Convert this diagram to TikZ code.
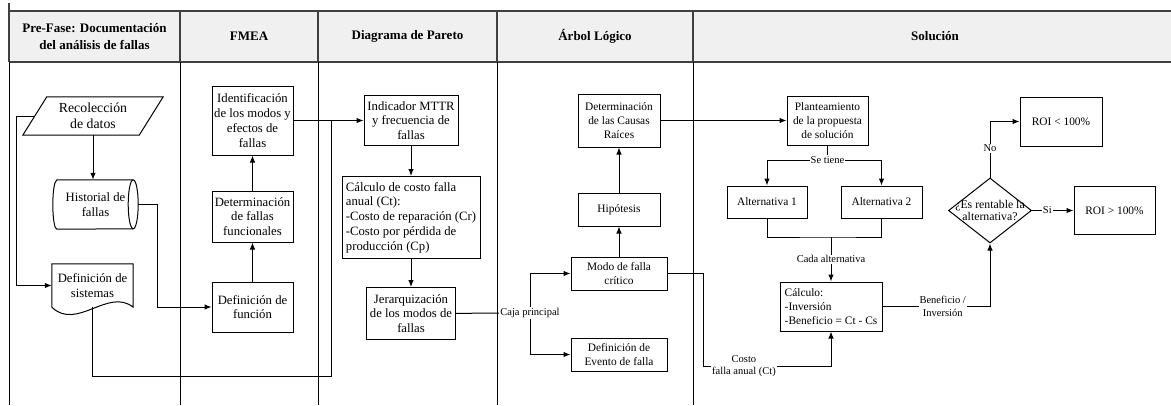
\documentclass[tikz,border=0pt]{standalone}
\usepackage{fontspec}
\setmainfont{Liberation Serif}
\usetikzlibrary{shapes.geometric,arrows.meta}

\newcommand{\txtmain}{\fontsize{12.7}{14.8}\selectfont}
\newcommand{\txtbig}{\fontsize{13.8}{16}\selectfont}
\newcommand{\txtsmall}{\fontsize{11.4}{13.6}\selectfont}
\newcommand{\txtlab}{\fontsize{10.5}{12.5}\selectfont}
\newcommand{\txtdia}{\fontsize{11.8}{12.5}\selectfont}
\newcommand{\txthead}{\fontsize{13}{17}\selectfont}

\begin{document}
\begin{tikzpicture}[x=1pt, y=1pt, >={Latex[length=7pt,width=5.5pt]},
  block/.style={draw, line width=1pt, align=center, font=\txtmain, inner sep=1pt},
  sblock/.style={block, font=\txtsmall},
  conn/.style={line width=1pt},
  lbl/.style={fill=white, font=\txtlab, inner sep=1pt, align=center},
  head/.style={font=\txthead\bfseries, align=center}]

  \useasboundingbox (0,0) rectangle (1171,-405);

  % Lanes
  \fill[black!6] (9,-11) rectangle (1171,-62);
  \draw[line width=1.6pt, black!75] (9,-11) -- (1171,-11) (9,-62) -- (1171,-62);
  \foreach \x in {180,318,497,693} {
    \draw[line width=1.4pt, black!75] (\x,-11) -- (\x,-62);
    \draw[line width=0.8pt] (\x,-62) -- (\x,-405);
  }
  \draw[line width=1.4pt, black!75] (9,-3) -- (9,-62);
  \draw[line width=0.8pt] (9,-62) -- (9,-405);

  % Headers
  \node[head] (hPre) at (94.5,-36.5) {Pre-Fase: Documentación\\del análisis de fallas};
  \node[head] (hFmea) at (249,-36.5) {FMEA};
  \node[head] (hPareto) at (407.5,-36.5) {Diagrama de Pareto};
  \node[head] (hArbol) at (595,-36.5) {Árbol Lógico};
  \node[head] (hSol) at (935,-36.5) {Solución};

  % Pre-Fase
  \node[align=center, font=\txtbig, minimum width=116pt, minimum height=38pt] (datos) at (93,-116) {Recolección\\de datos};
  \draw[conn] ([xshift=12pt]datos.north west) -- ([xshift=12pt]datos.north east)
    -- ([xshift=-12pt]datos.south east) -- ([xshift=-12pt]datos.south west) -- cycle;
  \node[align=center, font=\txtmain, minimum width=85pt, minimum height=49pt] (hist) at (95.5,-204.5) {Historial de\\fallas};
  \draw[conn] ([xshift=4pt]hist.north west) -- ([xshift=-5pt]hist.north east)
    arc[start angle=90, end angle=-90, x radius=5pt, y radius=24.5pt]
    -- ([xshift=4pt]hist.south west)
    arc[start angle=270, end angle=90, x radius=4pt, y radius=24.5pt] -- cycle;
  \draw[conn] ([xshift=-5pt]hist.north east) arc[start angle=90, end angle=270, x radius=5pt, y radius=24.5pt];
  \node[align=center, font=\txtmain, minimum width=81pt, minimum height=43pt] (sist) at (92.5,-285.5) {Definición de\\sistemas};
  \draw[conn] (sist.south west) -- (sist.north west) -- (sist.north east) -- (sist.south east)
    .. controls +(-25,20) and +(25,-24) .. (sist.south west);

  % FMEA
  \node[block, minimum width=81pt, minimum height=50pt] (func) at (252.5,-307) {Definición de\\función};
  \node[block, minimum width=81pt, minimum height=51pt, node distance=90.5pt, above of=func] (fallasf) {Determinación\\de fallas\\funcionales};
  \node[block, minimum width=81pt, minimum height=69pt, node distance=96pt, above of=fallasf] (ident) {Identificación\\de los modos y\\efectos de\\fallas};

  % Diagrama de Pareto
  \node[block, minimum width=94pt, minimum height=50pt] (mttr) at (411,-120.5) {Indicador MTTR\\y frecuencia de\\fallas};
  \node[block, align=left, minimum width=138pt, minimum height=82pt, node distance=97pt, below of=mttr] (costo) {Cálculo de costo falla\\anual (Ct):\\-Costo de reparación (Cr)\\-Costo por pérdida de\\producción (Cp)};
  \node[block, minimum width=89pt, minimum height=52pt, node distance=96pt, below of=costo] (jerar) {Jerarquización\\de los modos de\\fallas};

  % Arbol Logico
  \node[sblock, minimum width=96pt, minimum height=33pt] (modo) at (619,-273.5) {Modo de falla\\crítico};
  \node[sblock, minimum width=82pt, minimum height=33pt, node distance=64pt, above of=modo] (hipo) {Hipótesis};
  \node[sblock, minimum width=82pt, minimum height=53pt, node distance=89pt, above of=hipo] (causas) {Determinación\\de las Causas\\Raíces};
  \node[sblock, minimum width=96pt, minimum height=33pt, node distance=81pt, below of=modo] (evento) {Definición de\\Evento de falla};

  % Solucion
  \node[sblock, minimum width=81pt, minimum height=49pt] (plant) at (827.5,-120.5) {Planteamiento\\de la propuesta\\de solución};
  \node[sblock, minimum width=80pt, minimum height=32pt] (alt1) at (767,-202) {Alternativa 1};
  \node[sblock, minimum width=81pt, minimum height=32pt, node distance=114.5pt, right of=alt1] (alt2) {Alternativa 2};
  \node[sblock, align=left, minimum width=102pt, minimum height=49pt] (calc) at (831,-306.5) {Cálculo:\\-Inversión\\-Beneficio = Ct - Cs};
  \node[draw, diamond, line width=1pt, aspect=1.28, minimum width=83pt, minimum height=65pt, inner sep=0pt] (dia) at (990,-210.5) {};
  \node[font=\txtdia, align=center, inner sep=0pt] (diaTxt) at (dia) {¿Es rentable la\\alternativa?};
  \node[sblock, minimum width=82pt, minimum height=49pt] (roiLow) at (1061,-121.5) {ROI < 100\%};
  \node[sblock, minimum width=81pt, minimum height=48pt, node distance=124.5pt, right of=dia] (roiHigh) {ROI > 100\%};

  % Connectors Pre-Fase / FMEA
  \draw[conn, ->] (datos.south) -- (datos.south |- hist.north);
  \draw[conn, ->] (datos.west) -- ++(-18,0) |- (sist.west);
  \draw[conn, ->] (hist.east) -- ++(19,0) |- (func.west);
  \coordinate (cJunta) at (331,-120.5);
  \draw[conn] (sist.south) -- ++(0,-69) -| (cJunta);
  \draw[conn, ->] (func) -- (fallasf);
  \draw[conn, ->] (fallasf) -- (ident);
  \draw[conn, ->] (ident) -- (mttr);

  % Connectors Pareto / Arbol
  \draw[conn, ->] (mttr) -- (costo);
  \draw[conn, ->] (costo) -- (jerar);
  \coordinate (cCaja) at (530,-313);
  \draw[conn] (jerar) -- (cCaja);
  \draw[conn, ->] (cCaja) |- (modo);
  \draw[conn, ->] (cCaja) |- (evento);
  \node[lbl] (lCaja) at (cCaja) {Caja principal};
  \draw[conn, ->] (modo) -- (hipo);
  \draw[conn, ->] (hipo) -- (causas);
  \draw[conn, ->] (causas) -- (plant);

  % Connectors Solucion
  \coordinate (cTiene) at (827.5,-160);
  \draw[conn] (plant) -- (cTiene);
  \draw[conn, ->] (cTiene) -| (alt1);
  \draw[conn, ->] (cTiene) -| (alt2);
  \node[lbl] (lTiene) at (cTiene) {Se tiene};
  \coordinate (cCada) at (831,-237);
  \draw[conn] (alt1) |- (cCada) -| (alt2);
  \draw[conn, ->] (cCada) -- node[lbl] (lCada) {Cada alternativa} (calc);
  \coordinate (cCosto) at (703,-366);
  \draw[conn, ->] (modo.east) -| (cCosto) -| node[lbl, pos=0.16] (lCosto) {Costo\\falla anual (Ct)} (calc.south);
  \draw[conn, ->] (calc.east) -| node[lbl, pos=0.28] (lBenef) {Beneficio /\\Inversión} (dia.south);
  \draw[conn, ->] (dia) -- node[lbl, pos=0.37] (lSi) {Si} (roiHigh);
  \draw[conn, ->] (dia.north) |- node[lbl, pos=0.26] (lNo) {No} (roiLow.west);

\end{tikzpicture}
\end{document}
